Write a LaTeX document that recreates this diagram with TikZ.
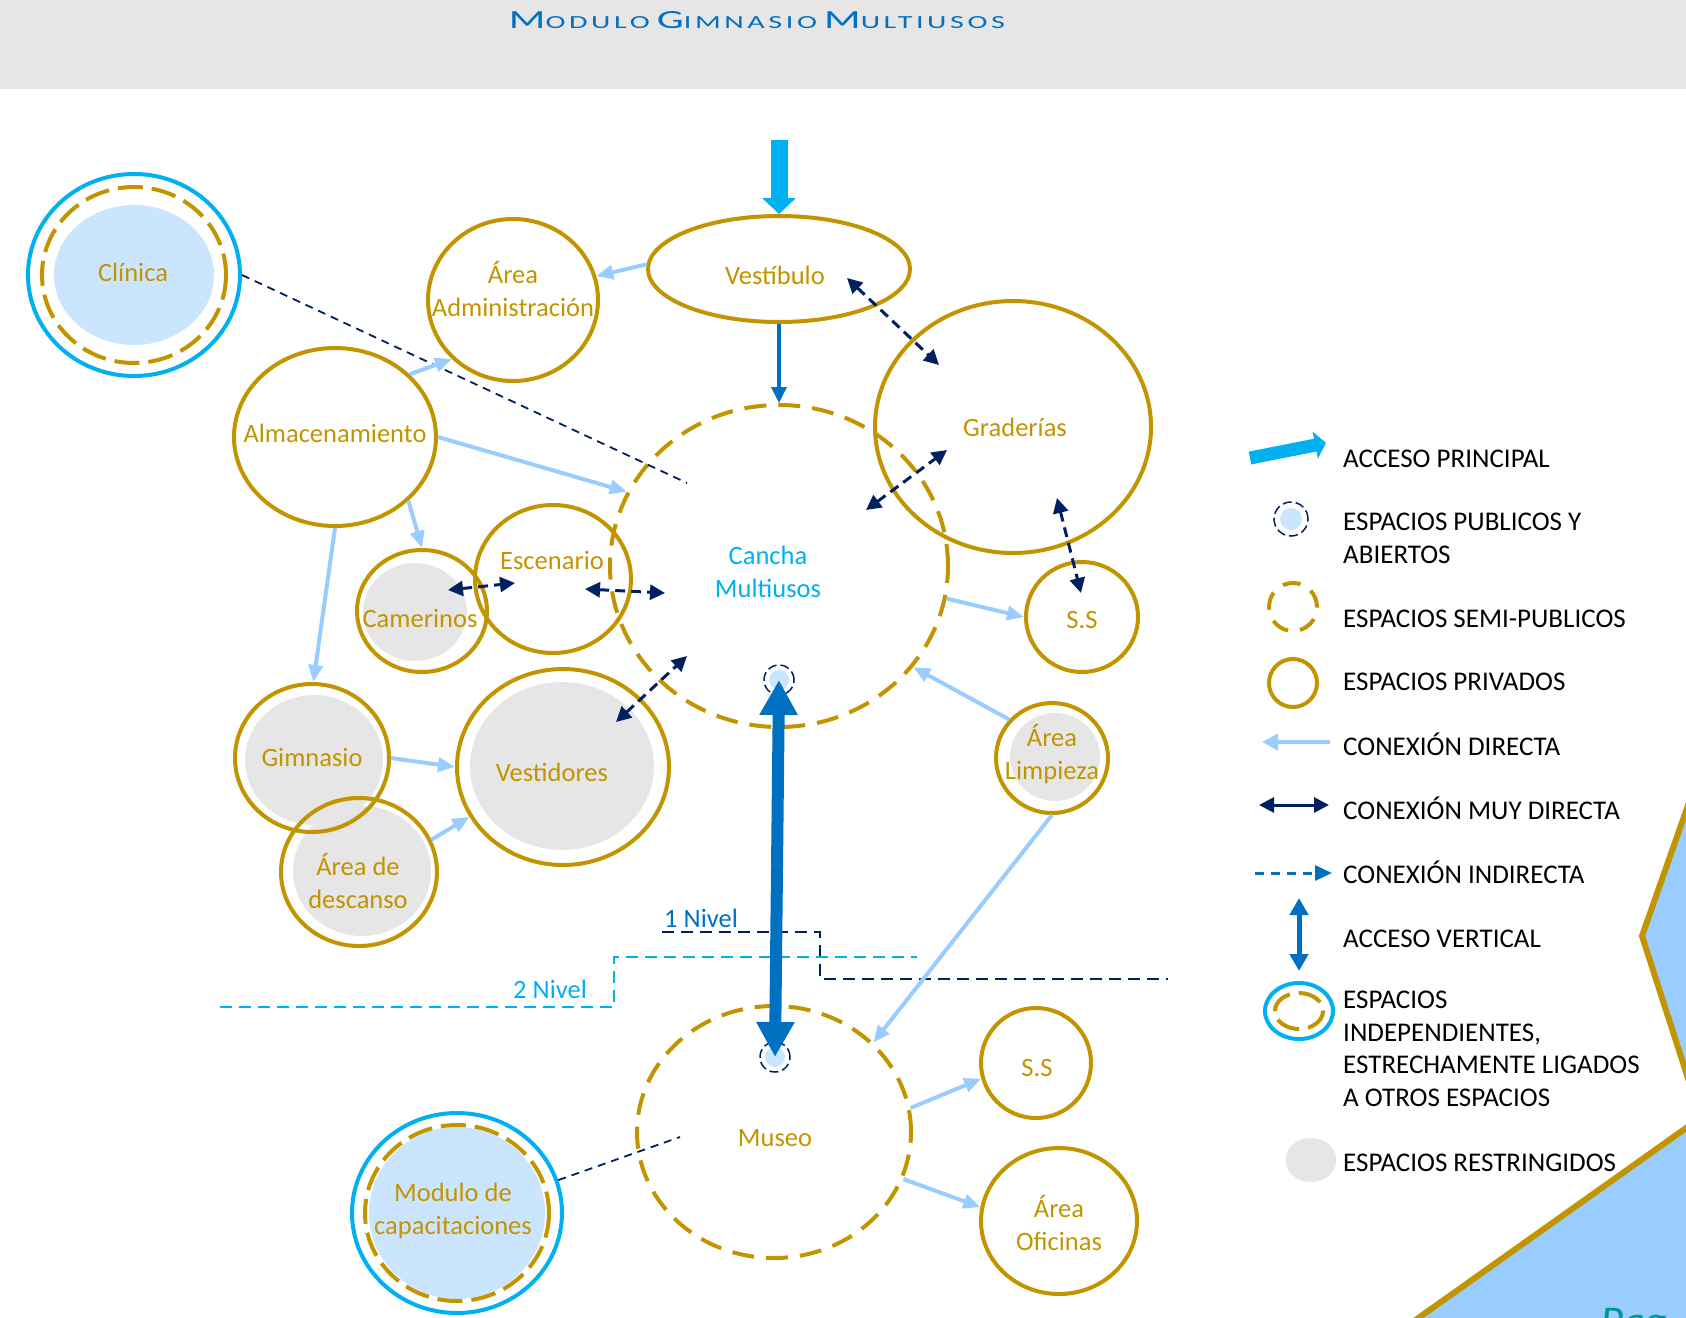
\documentclass[tikz,border=0pt]{standalone}
\usepackage{graphicx}
\usepackage{fontspec}
\setmainfont{Carlito}
\newfontfamily\titfont[LetterSpace=12]{Carlito}
\usetikzlibrary{arrows.meta,shapes.geometric,backgrounds}

\definecolor{oro}{RGB}{194,148,0}
\definecolor{cian}{RGB}{0,176,240}
\definecolor{azul}{RGB}{0,112,192}
\definecolor{marino}{RGB}{0,32,96}
\definecolor{celeste}{RGB}{153,204,255}
\definecolor{claro}{RGB}{204,229,255}
\definecolor{gris}{RGB}{230,230,230}
\definecolor{franja}{RGB}{231,230,230}
\definecolor{pagina}{RGB}{0,150,150}

\newcommand{\etiqfont}{\fontsize{26.5}{33}\selectfont}
\newcommand{\leyfont}{\fontsize{27}{32.5}\selectfont}
\newcommand{\versal}[2]{{\fontsize{27}{27}\selectfont #1}{\fontsize{19}{19}\selectfont #2}}

\tikzset{
  radios/.style 2 args={minimum width=2*#1pt, minimum height=2*#2pt},
  espacio/.style={ellipse, inner sep=0pt, line width=4pt},
  privado/.style={espacio, draw=oro},
  semipub/.style={espacio, draw=oro, dash pattern=on 22pt off 12pt},
  independiente/.style={espacio, draw=cian},
  anillo/.style={draw=oro, line width=4pt, dash pattern=on 25pt off 9pt},
  publico/.style={circle, draw=marino, line width=1.5pt, dash pattern=on 9pt off 4pt, minimum size=30pt, inner sep=0pt},
  texto/.style={text=oro, font=\etiqfont, align=center, inner sep=0pt},
  directa/.style={draw=celeste, line width=4pt, -{Triangle[length=17pt,width=14pt]}},
  muydirecta/.style={draw=marino, line width=3pt, dash pattern=on 10pt off 6pt,
    {Triangle[length=15pt,width=15pt]}-{Triangle[length=15pt,width=15pt]}},
  indirecta/.style={draw=marino, line width=1.8pt, dash pattern=on 8pt off 6pt},
  nivel/.style={line width=1.5pt, dash pattern=on 12pt off 7pt},
  leyenda/.style={anchor=base west, font=\leyfont, text=black, align=left, inner sep=0pt},
}

\begin{document}
\begin{tikzpicture}[x=1pt, y=-1pt]
  \useasboundingbox (0,0) rectangle (1686,1317);
  \clip (0,0) rectangle (1686,1317);

  % titulo
  \node[anchor=base, text=azul, inner sep=0pt] (titulo) at (757,28)
    {\resizebox{496pt}{17pt}{\titfont\versal{M}{ODULO}\hspace{0.45em}\versal{G}{IMNASIO}\hspace{0.45em}\versal{M}{ULTIUSOS}}};

  % espacios (anillos)
  \node[independiente, radios={106}{101}] (cli) at (134,275) {};
  \draw[anillo] (cli.center) ellipse (92 and 88);
  \node[privado, radios={85}{81}] (adm) at (513,300) {};
  \node[privado, radios={131}{53}] (vest) at (779,269) {};
  \node[privado, radios={138}{126}] (grad) at (1013,427) {};
  \node[semipub, radios={169}{161}] (can) at (779,566) {};
  \node[privado, radios={56}{55}] (ss1) at (1082,617) {};
  \node[privado, radios={56}{55}] (lim) at (1052,758) {};
  \node[privado, radios={101}{89}] (alm) at (335,437) {};
  \node[privado, radios={78}{74}] (esc) at (553,579) {};
  \node[privado, radios={65}{61}] (cam) at (422,611) {};
  \node[privado, radios={77}{74}] (gim) at (312,758) {};
  \node[privado, radios={78}{74}] (des) at (359,872) {};
  \node[privado, radios={106}{98}] (vtd) at (563,767) {};
  \node[semipub, radios={137}{126}] (mus) at (774,1132) {};
  \node[privado, radios={55}{55}] (ss2) at (1036,1063) {};
  \node[privado, radios={78}{73}] (ofi) at (1059,1221) {};
  \node[independiente, radios={105}{100}] (mod) at (457,1213) {};
  \draw[anillo] (mod.center) ellipse (92 and 88);
  \node[publico] (pub1) at (779,680) {};
  \node[publico] (pub2) at (775,1057) {};

  % rellenos
  \begin{scope}[on background layer]
    \fill[franja] (0,0) rectangle (1686,89);
    \fill[claro] (cli.center) ellipse (80 and 70);
    \fill[claro] (mod.center) ellipse (88 and 86);
    \fill[gris] ([shift={(-7,1)}]cam.center) ellipse (52 and 49);
    \fill[gris] ([shift={(2,2)}]gim.center) ellipse (69 and 65);
    \fill[gris] ([shift={(3,-1)}]des.center) ellipse (69 and 65);
    \fill[gris] ([shift={(-1,-1)}]vtd.center) ellipse (92 and 84);
    \fill[gris] ([shift={(3,-1)}]lim.center) ellipse (45 and 44);
    \fill[claro] (pub1.center) circle (10);
    \fill[claro] (pub2.center) circle (10);
    % adorno de la pagina
    \fill[celeste] (1705,757) -- (1642,936) -- (1705,1131) -- cycle;
    \draw[oro, line width=6pt] (1705,757) -- (1642,936) -- (1705,1131);
    \fill[celeste] (1710,1111) -- (1400,1331) -- (1710,1331) -- cycle;
    \draw[oro, line width=6pt] (1710,1111) -- (1400,1331);
  \end{scope}

  % textos
  \node[texto] (cliT) at (133,272) {Clínica};
  \node[texto] (admT) at (513,289) {Área\\Administración};
  \node[texto] (vestT) at (775,275) {Vestíbulo};
  \node[texto] (gradT) at (1015,427) {Graderías};
  \node[texto, text=cian] (canT) at (768,572) {Cancha\\Multiusos};
  \node[texto] (ss1T) at (1082,620) {S.S};
  \node[texto] (limT) at (1052,754) {Área\\Limpieza};
  \node[texto] (almT) at (335,433) {Almacenamiento};
  \node[texto] (escT) at (552,560) {Escenario};
  \node[texto] (camT) at (420,618) {Camerinos};
  \node[texto] (gimT) at (312,757) {Gimnasio};
  \node[texto] (desT) at (358,881) {Área de\\descanso};
  \node[texto] (vtdT) at (552,772) {Vestidores};
  \node[texto] (musT) at (775,1138) {Museo};
  \node[texto] (ss2T) at (1037,1068) {S.S};
  \node[texto] (ofiT) at (1059,1223) {Área\\Oficinas};
  \node[texto] (modT) at (453,1211) {Modulo de\\capacitaciones};

  % niveles
  \draw[nivel, marino] (662,932) -- (820,932) -- (820,979) -- (1168,979);
  \draw[nivel, cian] (220,1007) -- (614,1007) -- (614,957) -- (917,957);
  \node[anchor=base west, inner sep=0pt, font=\etiqfont, text=azul] (niv1) at (664,927) {1 Nivel};
  \node[anchor=base west, inner sep=0pt, font=\etiqfont, text=cian] (niv2) at (513,998) {2 Nivel};

  % conexiones indirectas
  \coordinate (cl2) at (687,483);
  \coordinate (mu2) at (680,1137);
  \draw[indirecta] (cli.0) -- (cl2);
  \draw[indirecta] (mod.18) -- (mu2);

  % acceso principal y acceso vertical
  \coordinate (entrada) at (779,140);
  \draw[cian, line width=17pt, -{Triangle[length=16pt,width=33pt]}] (entrada) -- (vest.north);
  \draw[azul, line width=3.5pt, -{Triangle[length=16pt,width=15pt]}] (vest.south) -- (can.north);
  \draw[azul, line width=12pt, {Triangle[length=35pt,width=36pt]}-{Triangle[length=35pt,width=36pt]}]
    (pub2.center) -- (pub1.center);

  % conexiones directas
  \draw[directa] (vest.178) -- (adm.16);
  \draw[directa] (alm.40) -- (adm.224);
  \draw[directa] (alm.0) -- (can.154);
  \draw[directa] (alm.319) -- (cam.90);
  \draw[directa] (alm.270) -- (gim.89);
  \draw[directa] (gim.0) -- (vtd.180);
  \draw[directa] (des.24) -- (vtd.208);
  \draw[directa] (can.349) -- (ss1.180);
  \draw[directa] (lim.138) -- (can.323);
  \draw[directa] (lim.270) -- (mus.42);
  \draw[directa] (mus.10) -- (ss2.196);
  \draw[directa] (mus.340) -- (ofi.170);

  % conexiones muy directas
  \coordinate (vg1) at (847,278);  \coordinate (vg2) at (939,365);
  \coordinate (cg1) at (866,510);  \coordinate (cg2) at (947,450);
  \coordinate (gs1) at (1057,498); \coordinate (gs2) at (1081,593);
  \coordinate (ce1) at (448,590);  \coordinate (ce2) at (515,583);
  \coordinate (ec1) at (585,589);  \coordinate (ec2) at (665,593);
  \coordinate (cv1) at (616,722);  \coordinate (cv2) at (687,656);
  \draw[muydirecta] (vg1) -- (vg2);
  \draw[muydirecta] (cg1) -- (cg2);
  \draw[muydirecta] (gs1) -- (gs2);
  \draw[muydirecta] (ce1) -- (ce2);
  \draw[muydirecta] (ec1) -- (ec2);
  \draw[muydirecta] (cv1) -- (cv2);

  % leyenda
  \coordinate (la1) at (1250,458); \coordinate (la2) at (1326,443);
  \draw[cian, line width=13pt, -{Triangle[length=11pt,width=27pt]}] (la1) -- (la2);
  \node[publico, minimum size=34pt] (leyPub) at (1291,519) {};
  \fill[claro] (leyPub.center) circle (11);
  \node[circle, draw=oro, line width=4pt, dash pattern=on 18pt off 12pt, minimum size=48pt] (leySemi) at (1293,607) {};
  \node[circle, draw=oro, line width=4pt, minimum size=48pt] (leyPriv) at (1293,683) {};
  \coordinate (ld1) at (1330,742); \coordinate (ld2) at (1262,742);
  \draw[directa, -{Triangle[length=16pt,width=16pt]}] (ld1) -- (ld2);
  \coordinate (lm1) at (1259,805); \coordinate (lm2) at (1329,805);
  \draw[muydirecta, solid] (lm1) -- (lm2);
  \coordinate (li1) at (1255,873); \coordinate (li2) at (1332,873);
  \draw[azul, line width=3pt, dash pattern=on 9pt off 7pt, -{Triangle[length=17pt,width=15pt]}] (li1) -- (li2);
  \coordinate (lv1) at (1299,898); \coordinate (lv2) at (1299,971);
  \draw[azul, line width=5pt, {Triangle[length=17pt,width=18pt]}-{Triangle[length=17pt,width=18pt]}] (lv1) -- (lv2);
  \node[independiente, radios={34}{28}] (leyInd) at (1299,1011) {};
  \draw[oro, line width=4pt, dash pattern=on 24pt off 9pt] (leyInd.center) ellipse (24 and 18);
  \node[ellipse, fill=gris, radios={25.5}{22}] (leyRes) at (1311,1160) {};

  \node[leyenda] (leyT1) at (1343,467) {ACCESO PRINCIPAL};
  \node[leyenda] (leyT2) at (1343,563) {ESPACIOS PUBLICOS Y\\ABIERTOS};
  \node[leyenda] (leyT3) at (1343,627) {ESPACIOS SEMI-PUBLICOS};
  \node[leyenda] (leyT4) at (1343,690) {ESPACIOS PRIVADOS};
  \node[leyenda] (leyT5) at (1343,755) {CONEXIÓN DIRECTA};
  \node[leyenda] (leyT6) at (1343,819) {CONEXIÓN MUY DIRECTA};
  \node[leyenda] (leyT7) at (1343,883) {CONEXIÓN INDIRECTA};
  \node[leyenda] (leyT8) at (1343,947) {ACCESO VERTICAL};
  \node[leyenda] (leyT9) at (1343,1106) {ESPACIOS\\INDEPENDIENTES,\\ESTRECHAMENTE LIGADOS\\A OTROS ESPACIOS};
  \node[leyenda] (leyT10) at (1343,1171) {ESPACIOS RESTRINGIDOS};

  % numero de pagina
  \node[anchor=base west, inner sep=0pt, text=pagina, font=\fontsize{44}{44}\itshape] (pag) at (1600,1336) {Pag. 89};
\end{tikzpicture}
\end{document}
